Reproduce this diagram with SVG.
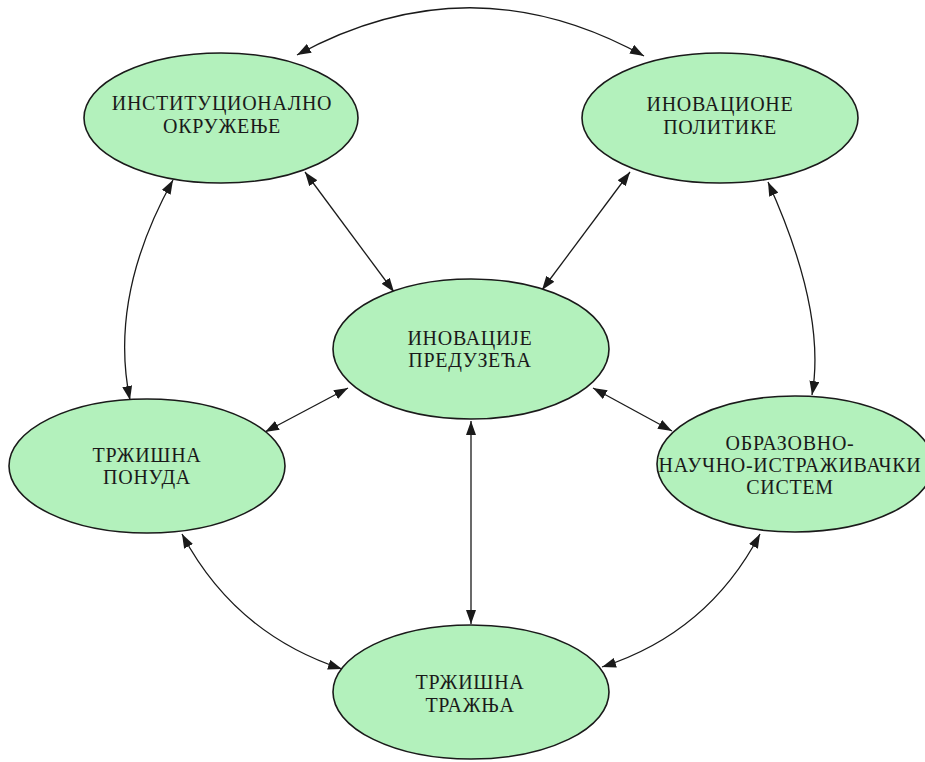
<svg xmlns="http://www.w3.org/2000/svg" width="925" height="762" viewBox="0 0 925 762">
  <style>
    .node ellipse { fill: #b3f1bc; stroke: #1a1a1a; stroke-width: 1.6; }
    .node text { font-family: "Liberation Serif", "Times New Roman", serif; font-size: 20px; letter-spacing: 0.7px; fill: #1a1a1a; text-anchor: middle; }
    .edge { fill: none; stroke: #1a1a1a; stroke-width: 1.3; marker-start: url(#head-start); marker-end: url(#head-end); }
  </style>
  <defs>
    <marker id="head-end" viewBox="0 0 14 10" refX="14" refY="5" markerWidth="14" markerHeight="10" markerUnits="userSpaceOnUse" orient="auto">
      <path d="M0,0 L14,5 L0,10 Z" fill="#1a1a1a"/>
    </marker>
    <marker id="head-start" viewBox="0 0 14 10" refX="0" refY="5" markerWidth="14" markerHeight="10" markerUnits="userSpaceOnUse" orient="auto">
      <path d="M14,0 L0,5 L14,10 Z" fill="#1a1a1a"/>
    </marker>
  </defs>

  <rect width="925" height="762" fill="#ffffff"/>

  <!-- connectors (all two-way) -->
  <g id="connectors">
    <path class="edge" d="M297,55 Q471,-40 644,56"/>
    <path class="edge" d="M173,180 Q108.5,296 130,400"/>
    <path class="edge" d="M768,182 Q826.7,311.5 812,395"/>
    <path class="edge" d="M182,534 Q235,634 342,669"/>
    <path class="edge" d="M760,534 Q708,633 602,667"/>
    <path class="edge" d="M305,172 L394,292"/>
    <path class="edge" d="M630,172 L542,290"/>
    <path class="edge" d="M348,388 L265,432"/>
    <path class="edge" d="M593,388 L672,431"/>
    <path class="edge" d="M471,421 L471,624"/>
  </g>

  <g id="institucionalno-okruzenje" class="node">
    <ellipse cx="221" cy="118" rx="137" ry="65"/>
    <text x="222" y="110">ИНСТИТУЦИОНАЛНО</text>
    <text x="222" y="133">ОКРУЖЕЊЕ</text>
  </g>

  <g id="inovacione-politike" class="node">
    <ellipse cx="720" cy="118" rx="138" ry="65"/>
    <text x="720" y="111">ИНОВАЦИОНЕ</text>
    <text x="720" y="134">ПОЛИТИКЕ</text>
  </g>

  <g id="inovacije-preduzeca" class="node">
    <ellipse cx="471" cy="349" rx="138" ry="70"/>
    <text x="470" y="345">ИНОВАЦИЈЕ</text>
    <text x="470" y="367">ПРЕДУЗЕЋА</text>
  </g>

  <g id="trzisna-ponuda" class="node">
    <ellipse cx="147" cy="466" rx="138" ry="67"/>
    <text x="147" y="462">ТРЖИШНА</text>
    <text x="147" y="484">ПОНУДА</text>
  </g>

  <g id="obrazovno-naucni-sistem" class="node">
    <ellipse cx="795" cy="464" rx="138" ry="68"/>
    <text x="790" y="450">ОБРАЗОВНО-</text>
    <text x="790" y="472">НАУЧНО-ИСТРАЖИВАЧКИ</text>
    <text x="790" y="494">СИСТЕМ</text>
  </g>

  <g id="trzisna-traznja" class="node">
    <ellipse cx="471" cy="692" rx="138" ry="67"/>
    <text x="470" y="689">ТРЖИШНА</text>
    <text x="470" y="712">ТРАЖЊА</text>
  </g>
</svg>
